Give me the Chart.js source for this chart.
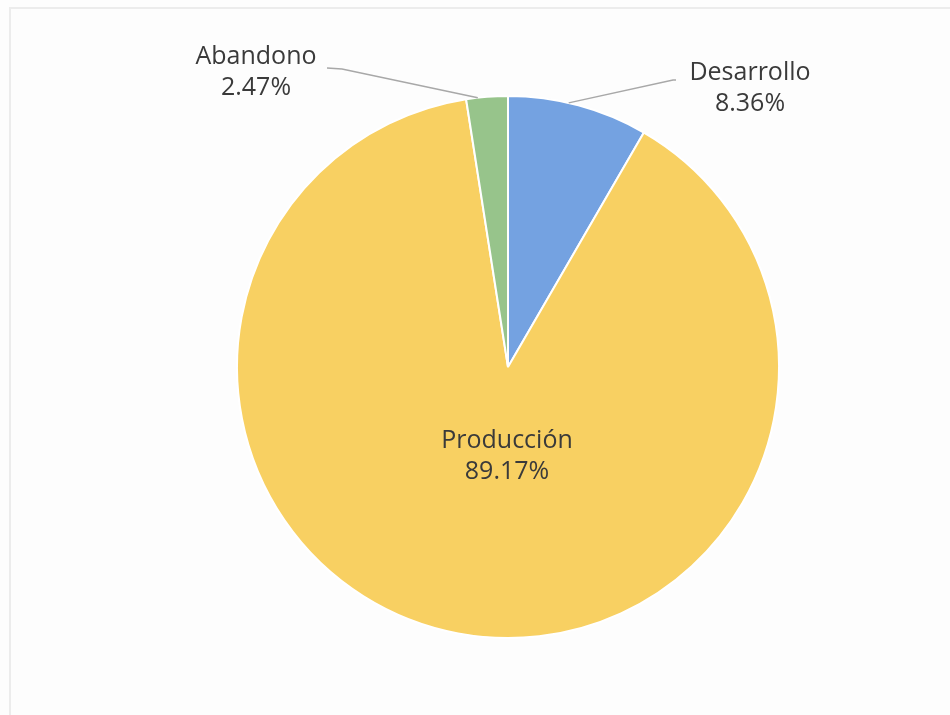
<!DOCTYPE html>
<html>
<head>
<meta charset="utf-8">
<script src="https://cdn.jsdelivr.net/npm/chart.js@4"></script>
<style>
  html, body { margin: 0; padding: 0; background: #fdfdfd; }
  #wrap { position: relative; width: 950px; height: 715px; overflow: hidden; }
  #frame { position: absolute; left: 9px; top: 7px; width: 960px; height: 730px;
           border: 2px solid #ececec; box-sizing: border-box; }
  canvas { position: absolute; left: 0; top: 0; }
</style>
</head>
<body>
<div id="wrap">
  <div id="frame"></div>
  <canvas id="c" width="950" height="715"></canvas>
</div>
<script>
// Share of fields by stage (percent)
const categories = ['Desarrollo', 'Producción', 'Abandono'];
const shares = [8.36, 89.17, 2.47];
const sliceColors = ['#74a2e1', '#f8d062', '#97c48b'];

// Label placement for each slice: text centre, an optional leader line
// (points next to the text) and where along the slice the line meets the edge.
const labelSpots = [
  { x: 750, y: 73, lead: [[676, 80], [673, 80]], t: 0.43 },
  { x: 507, y: 441, lead: null },
  { x: 256, y: 57, lead: [[327, 68], [342, 69]], t: 0.28 }
];

const pieLabels = {
  id: 'pieLabels',
  afterDatasetsDraw(chart) {
    const ctx = chart.ctx;
    const meta = chart.getDatasetMeta(0);
    ctx.save();
    meta.data.forEach((arc, i) => {
      const spot = labelSpots[i];
      if (spot.lead) {
        const ang = arc.startAngle + (arc.endAngle - arc.startAngle) * spot.t;
        const r = arc.outerRadius;
        const ax = arc.x + Math.cos(ang) * r;
        const ay = arc.y + Math.sin(ang) * r;
        ctx.strokeStyle = '#a8a8a8';
        ctx.lineWidth = 1.5;
        ctx.beginPath();
        ctx.moveTo(spot.lead[0][0], spot.lead[0][1]);
        ctx.lineTo(spot.lead[1][0], spot.lead[1][1]);
        ctx.lineTo(ax, ay);
        ctx.stroke();
      }
      ctx.fillStyle = '#3a3a3a';
      ctx.font = '25px "Open Sans", "Noto Sans", sans-serif';
      ctx.textAlign = 'center';
      ctx.textBaseline = 'middle';
      ctx.fillText(categories[i], spot.x, spot.y);
      ctx.fillText(shares[i].toFixed(2) + '%', spot.x, spot.y + 31);
    });
    ctx.restore();
  }
};

new Chart(document.getElementById('c'), {
  type: 'pie',
  data: {
    labels: categories,
    datasets: [{
      data: shares,
      backgroundColor: sliceColors,
      borderColor: '#ffffff',
      borderWidth: 2
    }]
  },
  options: {
    responsive: false,
    animation: false,
    layout: { padding: { left: 236, right: 170, top: 95, bottom: 76 } },
    plugins: {
      legend: { display: false },
      tooltip: { enabled: false }
    }
  },
  plugins: [pieLabels]
});
</script>
</body>
</html>
